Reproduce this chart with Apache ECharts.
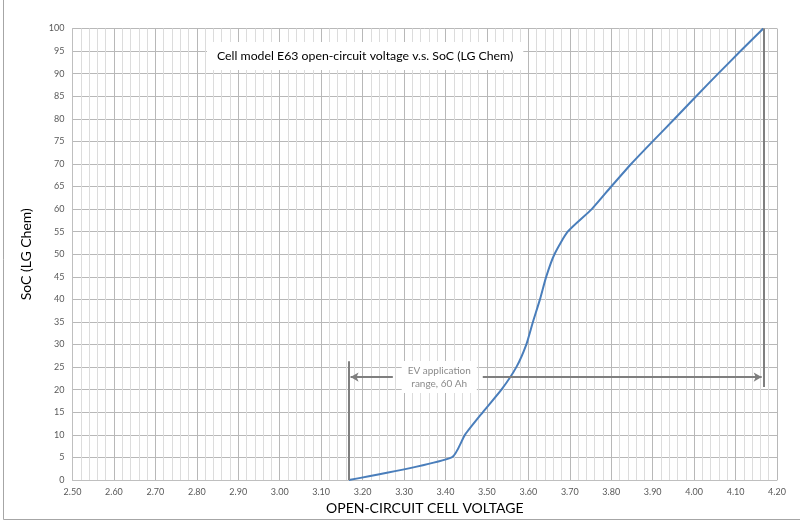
<!DOCTYPE html>
<html>
<head>
<meta charset="utf-8">
<script src="https://cdn.jsdelivr.net/npm/echarts@6/dist/echarts.min.js"></script>
<style>
html,body{margin:0;padding:0;background:#fff;}
#main{width:800px;height:523px;}
</style>
</head>
<body>
<div id="main"></div>
<script>
// ---- data ----
var socValues = [0, 5, 10, 15, 20, 25, 30, 35, 40, 45, 50, 55, 60, 65, 70, 75, 80, 85, 90, 95, 100];
var ocvValues = [3.167, 3.415, 3.447, 3.490, 3.535, 3.571, 3.595, 3.611, 3.628, 3.643, 3.663, 3.695, 3.753, 3.800, 3.848, 3.900, 3.953, 4.005, 4.058, 4.112, 4.167];
var xTickLabels = ['2.50','2.60','2.70','2.80','2.90','3.00','3.10','3.20','3.30','3.40','3.50','3.60','3.70','3.80','3.90','4.00','4.10','4.20'];
var rangeBoundsV = [3.167, 4.167];      // EV application range limits (V)
var arrowSoC = 22.8;                    // SoC level of the range arrows
var arrowInnerV = [3.273, 3.490];       // inner start of left / right arrows
var leftBoundSoC = [0, 26.3];           // vertical extent of left bound line
var rightBoundSoC = [20.6, 100];        // vertical extent of right bound line
var rangeLabelPos = [3.385, 22.8];
var rangeLabelLines = ['EV application', 'range, 60 Ah'];
var chartTitle = 'Cell model E63 open-circuit voltage v.s. SoC (LG Chem)';

var seriesData = socValues.map(function (s, i) { return [ocvValues[i], s]; });

var chart = echarts.init(document.getElementById('main'));
var annColor = '#7f7f7f';
var font = 'Lato, "Open Sans", sans-serif';

chart.setOption({
  animation: false,
  backgroundColor: '#fff',
  textStyle: { fontFamily: font },
  title: {
    text: chartTitle,
    left: 207, top: 42,
    padding: [8, 10, 8, 10],
    backgroundColor: '#fff',
    textStyle: { fontSize: 12.3, fontWeight: 'normal', color: '#000', fontFamily: font }
  },
  graphic: [
    { type: 'line', shape: { x1: 3.5, y1: 0, x2: 3.5, y2: 519.5 }, style: { stroke: '#a6a6a6', lineWidth: 1 } },
    { type: 'line', shape: { x1: 3.5, y1: 519.5, x2: 800, y2: 519.5 }, style: { stroke: '#a6a6a6', lineWidth: 1 } }
  ],
  grid: { left: 72.5, right: 23, top: 28.5, bottom: 43, containLabel: false, outerBoundsMode: 'none' },
  xAxis: {
    type: 'value', min: 2.5, max: 4.2, interval: 0.1,
    name: 'OPEN-CIRCUIT CELL VOLTAGE', nameLocation: 'middle', nameGap: 20,
    nameTextStyle: { fontSize: 14, color: '#000', fontFamily: font },
    axisLine: { show: true, lineStyle: { color: '#bfbfbf', width: 1 } },
    axisTick: { show: false },
    axisLabel: {
      fontSize: 9, color: '#595959', margin: 8,
      formatter: function (v) {
        var idx = Math.round((v - 2.5) / 0.1);
        return xTickLabels[idx] !== undefined ? xTickLabels[idx] : v.toFixed(2);
      }
    },
    splitLine: { show: true, lineStyle: { color: '#b8b8b8', width: 1 } },
    minorTick: { show: false, splitNumber: 5 },
    minorSplitLine: { show: true, lineStyle: { color: '#dcdcdc', width: 1 } }
  },
  yAxis: {
    type: 'value', min: 0, max: 100, interval: 5,
    name: 'SoC (LG Chem)', nameLocation: 'middle', nameGap: 39, nameRotate: 90,
    nameTextStyle: { fontSize: 14, color: '#000', fontFamily: font },
    axisLine: { show: true, lineStyle: { color: '#bfbfbf', width: 1 } },
    axisTick: { show: false },
    axisLabel: { fontSize: 9, color: '#595959', margin: 8 },
    splitLine: { show: true, lineStyle: { color: '#b8b8b8', width: 1 } }
  },
  series: [{
    type: 'line',
    data: seriesData,
    showSymbol: false,
    smooth: 0.2,
    lineStyle: { color: '#4a7ebb', width: 2 },
    itemStyle: { color: '#4a7ebb' },
    z: 3,
    markLine: {
      silent: true,
      symbol: 'none',
      label: { show: false },
      lineStyle: { color: annColor, width: 2, type: 'solid' },
      data: [
        [{ coord: [rangeBoundsV[0], leftBoundSoC[0]] }, { coord: [rangeBoundsV[0], leftBoundSoC[1]] }],
        [{ coord: [rangeBoundsV[1], rightBoundSoC[0]] }, { coord: [rangeBoundsV[1], rightBoundSoC[1]] }],
        [{ coord: [arrowInnerV[0], arrowSoC], symbol: 'none' }, { coord: [rangeBoundsV[0] + 0.004, arrowSoC], symbol: 'arrow', symbolSize: [7, 8] }],
        [{ coord: [arrowInnerV[1], arrowSoC], symbol: 'none' }, { coord: [rangeBoundsV[1] - 0.004, arrowSoC], symbol: 'arrow', symbolSize: [7, 8] }]
      ]
    },
    markPoint: {
      silent: true,
      data: [{
        coord: rangeLabelPos,
        symbol: 'circle', symbolSize: 1,
        itemStyle: { color: 'rgba(0,0,0,0)' },
        label: {
          show: true, position: 'inside',
          formatter: rangeLabelLines.join('\n'),
          color: '#8c8c8c', fontSize: 10, lineHeight: 13,
          backgroundColor: '#fff', padding: [3, 6, 3, 6],
          fontFamily: font
        }
      }]
    }
  }]
});
</script>
</body>
</html>
